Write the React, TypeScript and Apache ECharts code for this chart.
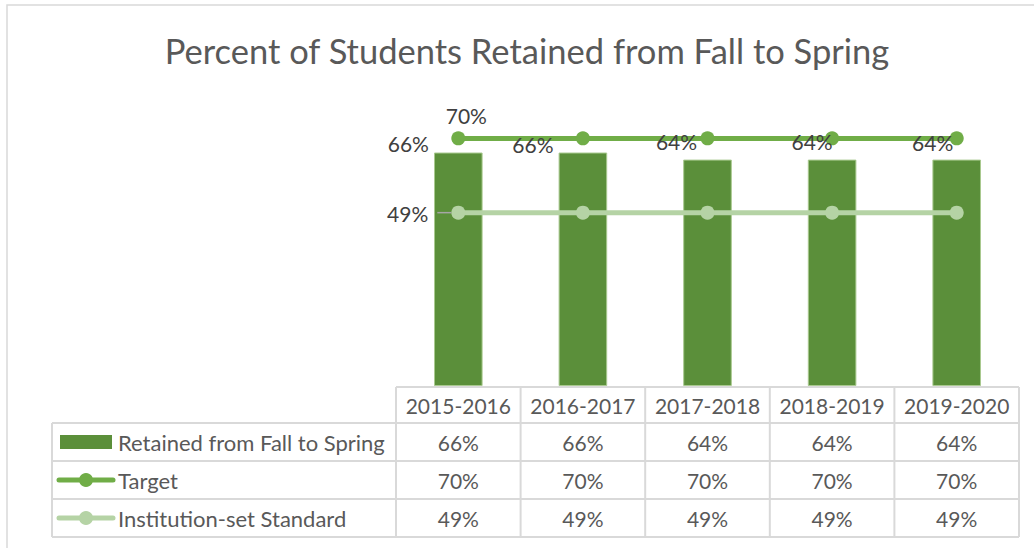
import React, { useEffect, useRef } from "react";
import * as echarts from "echarts";

const categories = ["2015-2016", "2016-2017", "2017-2018", "2018-2019", "2019-2020"];
const retained = [66, 66, 64, 64, 64];
const target = [70, 70, 70, 70, 70];
const standard = [49, 49, 49, 49, 49];
const seriesNames = ["Retained from Fall to Spring", "Target", "Institution-set Standard"];
const titleText = "Percent of Students Retained from Fall to Spring";

// label placement (style, not data)
const barLabelOffsets = [[-50, 6], [-50, 7], [-31, -3], [-20, -3], [-24, -2]];

const FONT = "Lato, 'Noto Sans', sans-serif";
const BAR = "#5b8f3a";
const TARGET = "#70ad47";
const STD = "#b5d3a5";
const GRIDLINE = "#d9d9d9";
const TXT = "#595959";
const LBL = "#404040";
const NUM_SIZE = 21;
const NAME_SIZE = 22;

export default function App() {
  const ref = useRef<HTMLDivElement>(null);
  useEffect(() => {
    document.body.style.margin = "0";
    const chart = echarts.init(ref.current!, undefined, { renderer: "svg" });
    const pct = (p: any) => p.value + "%";
    chart.setOption({
      animation: false,
      backgroundColor: "#ffffff",
      grid: { left: 396, right: 15, top: 103, bottom: 162 },
      xAxis: {
        type: "category",
        data: categories,
        axisLine: { show: false },
        axisTick: { show: false },
        axisLabel: { show: false },
        splitLine: { show: false },
      },
      yAxis: { type: "value", min: 0, max: 80, show: false, splitLine: { show: false } },
      series: [
        {
          name: seriesNames[0],
          type: "bar",
          barWidth: "39%",
          data: retained,
          itemStyle: { color: BAR, borderColor: "#a9c98f", borderWidth: 1 },
          z: 1,
        },
        {
          name: seriesNames[1],
          type: "line",
          data: target.map((v, i) =>
            i === 0
              ? { value: v, label: { show: true, position: "top", offset: [8, 0] } }
              : v
          ),
          symbol: "circle",
          symbolSize: 14,
          itemStyle: { color: TARGET },
          lineStyle: { color: TARGET, width: 5 },
          label: { show: false, formatter: pct, fontSize: NUM_SIZE, color: LBL, fontFamily: FONT },
          z: 3,
        },
        {
          name: seriesNames[2],
          type: "line",
          data: standard.map((v, i) =>
            i === 0
              ? { value: v, label: { show: true, position: "left", distance: 23, offset: [0, 1] } }
              : v
          ),
          symbol: "circle",
          symbolSize: 14,
          itemStyle: { color: STD },
          lineStyle: { color: STD, width: 5 },
          label: { show: false, formatter: pct, fontSize: NUM_SIZE, color: LBL, fontFamily: FONT },
          z: 3,
        },
        {
          // transparent overlay carrying the bar data labels above the lines
          name: seriesNames[0] + " labels",
          type: "bar",
          barWidth: "39%",
          barGap: "-100%",
          silent: true,
          data: retained.map((v, i) => ({ value: v, label: { offset: barLabelOffsets[i] } })),
          itemStyle: { color: "rgba(0,0,0,0)" },
          label: {
            show: true,
            position: "top",
            formatter: pct,
            fontSize: NUM_SIZE,
            color: LBL,
            fontFamily: FONT,
          },
          z: 5,
        },
      ],
    });

    // Build data table & decorations from axis positions
    const centers = categories.map((c) => (chart.convertToPixel({ xAxisIndex: 0 }, c) as number));
    const colW = centers.length > 1 ? centers[1] - centers[0] : 124.6;
    const tLeft = centers[0] - colW / 2;
    const tRight = centers[centers.length - 1] + colW / 2;
    const y0 = chart.convertToPixel({ yAxisIndex: 0 }, 0) as number;
    const headTop = y0 + 1;
    const rowY = [headTop, headTop + 36, headTop + 74, headTop + 112, headTop + 150];
    const legLeft = 52;

    const lineStyle = { stroke: GRIDLINE, lineWidth: 2 };
    const g: any[] = [];
    g.push({
      type: "rect",
      shape: { x: 7, y: 5, width: 1100, height: 600 },
      style: { fill: "none", stroke: GRIDLINE, lineWidth: 1.5 },
      silent: true,
    });
    g.push({
      type: "text",
      x: 527,
      y: 50,
      style: {
        text: titleText,
        fontSize: 34.5,
        fontFamily: FONT,
        fill: TXT,
        align: "center",
        verticalAlign: "middle",
      },
    });
    g.push({ type: "line", shape: { x1: tLeft, y1: rowY[0], x2: tRight, y2: rowY[0] }, style: lineStyle });
    for (let r = 1; r < rowY.length; r++) {
      g.push({ type: "line", shape: { x1: legLeft, y1: rowY[r], x2: tRight, y2: rowY[r] }, style: lineStyle });
    }
    g.push({ type: "line", shape: { x1: legLeft, y1: rowY[1], x2: legLeft, y2: rowY[4] }, style: lineStyle });
    for (let i = 0; i <= categories.length; i++) {
      const x = tLeft + i * colW;
      g.push({ type: "line", shape: { x1: x, y1: rowY[0], x2: x, y2: rowY[4] }, style: lineStyle });
    }
    const cellText = (text: string, x: number, y: number, size: number, align = "center") => ({
      type: "text",
      x,
      y,
      style: { text, fontSize: size, fontFamily: FONT, fill: TXT, align, verticalAlign: "middle" },
    });
    const mid = (r: number) => (rowY[r] + rowY[r + 1]) / 2;
    categories.forEach((c, i) => g.push(cellText(c, centers[i], mid(0), NUM_SIZE)));
    [retained, target, standard].forEach((arr, r) => {
      arr.forEach((v, i) => g.push(cellText(v + "%", centers[i], mid(r + 1), NUM_SIZE)));
      g.push(cellText(seriesNames[r], 118, mid(r + 1), NAME_SIZE, "left"));
    });
    g.push({
      type: "rect",
      shape: { x: 60, y: mid(1) - 7, width: 52, height: 14 },
      style: { fill: BAR },
    });
    [TARGET, STD].forEach((col, k) => {
      const y = mid(2 + k);
      g.push({
        type: "line",
        shape: { x1: 59, y1: y, x2: 113, y2: y },
        style: { stroke: col, lineWidth: 5, lineCap: "round" },
      });
      g.push({ type: "circle", shape: { cx: 86, cy: y, r: 7 }, style: { fill: col } });
    });
    const p = chart.convertToPixel({ seriesIndex: 2 }, [0, standard[0]]) as number[];
    g.push({
      type: "line",
      shape: { x1: p[0] - 21, y1: p[1], x2: p[0] - 7, y2: p[1] },
      style: { stroke: "#a6a6a6", lineWidth: 1.5 },
      z: 10,
    });

    chart.setOption({ graphic: g });
    return () => chart.dispose();
  }, []);
  return <div ref={ref} style={{ width: 1034, height: 548 }} />;
}
